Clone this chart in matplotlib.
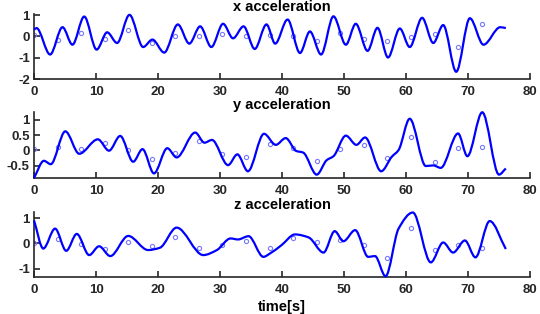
import numpy as np
import matplotlib

matplotlib.use("Agg")
import matplotlib.pyplot as plt
from matplotlib.path import Path
from matplotlib.patches import PathPatch
from matplotlib.ticker import FormatStrFormatter

# sample instants (s) for the raw samples shown as circles
sample_t = [0.0, 3.8, 7.6, 11.4, 15.2, 19.0, 22.8, 26.6, 30.4, 34.2,
            38.0, 41.8, 45.6, 49.4, 53.2, 57.0, 60.8, 64.6, 68.4, 72.2]

x_samples = [0.08, -0.19, 0.17, -0.14, 0.29, -0.31, 0.0, 0.0, 0.12, 0.02,
             0.08, 0.0, -0.22, 0.17, -0.12, -0.23, -0.03, 0.12, -0.51, 0.56]
y_samples = [0.03, 0.10, 0.05, 0.25, 0.0, -0.27, -0.08, 0.32, -0.13, -0.22,
             0.21, 0.07, -0.36, 0.03, 0.16, -0.26, 0.42, -0.38, 0.07, 0.10]
z_samples = [0.0, 0.17, -0.03, -0.22, 0.05, -0.11, 0.26, -0.17, -0.04, 0.08,
             -0.17, 0.20, 0.05, 0.14, -0.04, -0.59, 0.63, -0.24, -0.04, -0.16]

# reconstructed curve, read at its turning points (time, value)
x_curve_t = [0.0, 0.4, 2.6, 4.6, 6.2, 8.1, 10.1, 11.8, 13.4, 15.4, 17.6, 19.1,
             21.0, 23.2, 25.05, 26.8, 28.6, 30.5, 32.1, 33.8, 35.6, 37.5, 38.9,
             40.9, 42.9, 44.5, 46.3, 48.3, 50.3, 51.9, 53.8, 55.4, 57.1, 59.0,
             60.6, 62.6, 64.4, 66.0, 68.1, 70.3, 72.5, 75.2, 76.1]
x_curve_v = [0.31, 0.39, -0.85, 0.43, -0.39, 0.93, -0.62, 0.19, -0.31, 1.01,
             -0.50, -0.15, -0.76, 0.56, -0.34, 0.47, -0.50, 0.59, -0.09, 0.47,
             -0.59, 0.56, -0.34, 0.79, -0.78, 0.23, -0.85, 0.94, -0.39, 0.59,
             -0.68, 0.40, -0.99, 0.37, -0.50, 0.87, -0.31, 0.53, -1.66, 0.85,
             -0.39, 0.43, 0.39]

y_curve_t = [0.0, 1.6, 2.7, 5.05, 7.3, 10.3, 12.1, 13.9, 16.0, 17.5, 19.35,
             21.5, 23.0, 26.0, 27.5, 28.7, 31.3, 32.8, 34.5, 37.1, 39.0, 40.6,
             42.3, 43.4, 45.6, 47.2, 48.3, 50.3, 52.0, 53.4, 56.0, 57.7, 58.8,
             60.6, 63.2, 64.4, 65.6, 68.4, 69.9, 72.3, 75.0, 76.1]
y_curve_v = [-0.90, -0.34, -0.45, 0.62, -0.11, 0.36, -0.01, 0.47, -0.37, 0.04,
             -0.75, 0.07, -0.23, 0.58, 0.25, 0.34, -0.48, -0.13, -0.68, 0.54,
             0.18, 0.40, -0.02, -0.07, -0.79, -0.32, -0.19, 0.48, 0.18, 0.42,
             -0.68, -0.21, 0.01, 1.03, -0.51, -0.49, -0.57, 0.55, -0.19, 1.24,
             -0.79, -0.59]

z_curve_t = [0.0, 1.5, 3.4, 5.2, 6.9, 8.9, 10.5, 12.3, 15.2, 18.4, 20.3, 23.0,
             27.3, 29.5, 31.7, 32.9, 34.6, 37.0, 38.1, 39.9, 42.1, 44.3, 46.7,
             48.5, 49.9, 51.8, 53.9, 55.0, 56.7, 58.8, 61.1, 64.0, 66.0, 67.6,
             69.5, 71.2, 73.5, 76.1]
z_curve_v = [0.92, -0.20, 0.59, -0.29, 0.38, -0.46, -0.11, -0.50, 0.30, -0.26,
             -0.17, 0.63, -0.46, -0.26, 0.20, 0.16, 0.29, -0.53, -0.39, -0.07,
             0.36, 0.24, -0.36, 0.49, 0.09, 0.53, -0.53, -0.50, -1.30, 0.59,
             1.23, -0.75, 0.04, -0.36, 0.12, -0.55, 0.89, -0.22]

titles = ["x acceleration", "y acceleration", "z acceleration"]
ylims = [(-2, 1.05), (-0.9, 1.25), (-1.33, 1.25)]
yticks = [[-2, -1, 0, 1], [-0.5, 0, 0.5, 1], [-1, 0, 1]]


def smooth_curve(t, v):
    # cubic Bezier path through the points, flat at turning points
    t = np.asarray(t, float)
    v = np.asarray(v, float)
    h = np.diff(t)
    d = np.diff(v) / h
    m = np.zeros_like(v)
    m[0], m[-1] = d[0], d[-1]
    for k in range(1, len(v) - 1):
        if d[k - 1] * d[k] > 0:
            w1 = 2 * h[k] + h[k - 1]
            w2 = h[k] + 2 * h[k - 1]
            m[k] = (w1 + w2) / (w1 / d[k - 1] + w2 / d[k])
    verts = [(t[0], v[0])]
    codes = [Path.MOVETO]
    for k in range(len(h)):
        verts += [(t[k] + h[k] / 3, v[k] + m[k] * h[k] / 3),
                  (t[k + 1] - h[k] / 3, v[k + 1] - m[k + 1] * h[k] / 3),
                  (t[k + 1], v[k + 1])]
        codes += [Path.CURVE4] * 3
    return Path(verts, codes)


plt.rcParams["font.family"] = ["Liberation Sans", "DejaVu Sans"]
plt.rcParams["font.weight"] = "bold"

fig = plt.figure(figsize=(5.4, 3.14), dpi=100)
boxes = [(14, 79), (112, 178), (212, 277)]
curves = [(x_curve_t, x_curve_v), (y_curve_t, y_curve_v), (z_curve_t, z_curve_v)]
samples = [x_samples, y_samples, z_samples]

for i in range(3):
    top, bot = boxes[i]
    ax = fig.add_axes([34 / 540, 1 - bot / 314, 496 / 540, (bot - top) / 314])
    ax.add_patch(PathPatch(smooth_curve(*curves[i]), facecolor="none",
                           edgecolor="#0000ff", linewidth=1.6, zorder=3,
                           clip_on=False))
    ax.plot(sample_t, samples[i], "o", mfc="none", mec="#7878ff",
            ms=3, mew=0.8, zorder=2)
    ax.set_xlim(0, 80)
    ax.set_ylim(*ylims[i])
    ax.set_xticks(range(0, 81, 10))
    ax.set_yticks(yticks[i])
    ax.yaxis.set_major_formatter(FormatStrFormatter("%g"))
    ax.set_title(titles[i], fontsize=10.5, fontweight="bold", pad=2)
    for s in ("top", "right"):
        ax.spines[s].set_visible(False)
    for s in ("left", "bottom"):
        ax.spines[s].set_color("#262626")
        ax.spines[s].set_linewidth(1.2)
    ax.tick_params(direction="in", length=4, width=1.2, color="#262626",
                   labelsize=9.5, labelcolor="#262626")
    ax.tick_params(axis="x", pad=5)
    ax.tick_params(axis="y", pad=3)
    if i == 2:
        ax.set_xlabel("time[s]", fontsize=10.5, fontweight="bold", labelpad=3)

fig.savefig("out.png", dpi=100)
